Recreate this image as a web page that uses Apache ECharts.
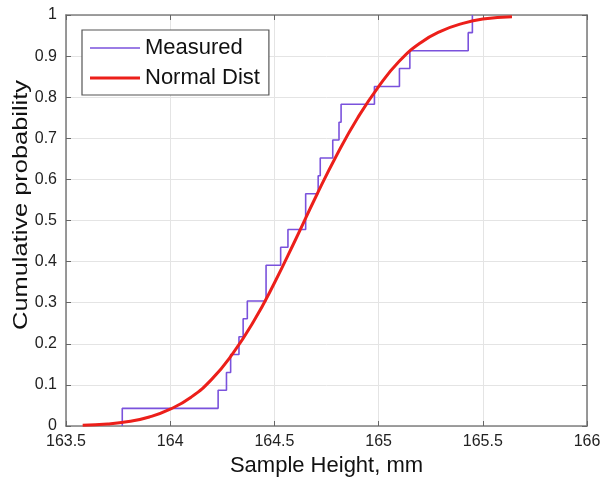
<!DOCTYPE html>
<html>
<head>
<meta charset="utf-8">
<script src="https://cdn.jsdelivr.net/npm/echarts@6/dist/echarts.min.js"></script>
<style>
  html, body { margin: 0; padding: 0; background: #ffffff; }
  #chart { width: 608px; height: 485px; }
</style>
</head>
<body>
<div id="chart"></div>
<script>
// ---- Data ----
// Empirical CDF of measured sample heights (step points: x, cumulative probability)
var measuredX = [163.77, 163.77, 164.23, 164.27, 164.29, 164.33, 164.35, 164.37, 164.46, 164.53, 164.565, 164.65, 164.71, 164.72, 164.78, 164.81, 164.82, 164.98, 165.10, 165.15, 165.43, 165.45];
var measuredP = [0.000, 0.043, 0.087, 0.130, 0.174, 0.217, 0.261, 0.304, 0.391, 0.435, 0.478, 0.565, 0.609, 0.652, 0.696, 0.739, 0.783, 0.826, 0.870, 0.913, 0.957, 1.000];

// Fitted normal distribution curve
var normalX = [163.58, 163.7, 163.8, 163.9, 164.0, 164.1, 164.2, 164.3, 164.4, 164.5, 164.6, 164.7, 164.8, 164.9, 165.0, 165.1, 165.2, 165.3, 165.4, 165.5, 165.64];
var normalP = [0.002, 0.005, 0.011, 0.022, 0.041, 0.070, 0.114, 0.176, 0.254, 0.348, 0.452, 0.559, 0.660, 0.750, 0.826, 0.888, 0.932, 0.961, 0.979, 0.990, 0.996];

// Axis settings
var xMin = 163.5, xMax = 166, xStep = 0.5;
var yMin = 0, yMax = 1, yStep = 0.1;
var xTitle = 'Sample Height, mm';
var yTitle = 'Cumulative probability';
var seriesNames = ['Measured', 'Normal Dist'];

function pairs(xs, ys) {
  var out = [];
  for (var i = 0; i < xs.length; i++) out.push([xs[i], ys[i]]);
  return out;
}

var FONT = '"Liberation Sans", Arial, Helvetica, sans-serif';
var frameColor = '#808080';
var tickColor = '#666666';
var gridColor = '#e4e4e4';
var purple = '#7a52dc';
var red = '#ec1f1a';

var chart = echarts.init(document.getElementById('chart'), null, { renderer: 'canvas' });

function mirrorX(pos) {
  return {
    type: 'value', position: pos, min: xMin, max: xMax, interval: xStep,
    axisLine: { show: true, onZero: false, lineStyle: { color: frameColor, width: 1.6 } },
    axisTick: { show: true, inside: true, length: 5, lineStyle: { color: tickColor } },
    axisLabel: { show: false },
    splitLine: { show: false }
  };
}
function mirrorY(pos) {
  return {
    type: 'value', position: pos, min: yMin, max: yMax, interval: yStep,
    axisLine: { show: true, onZero: false, lineStyle: { color: frameColor, width: 1.6 } },
    axisTick: { show: true, inside: true, length: 5, lineStyle: { color: tickColor } },
    axisLabel: { show: false },
    splitLine: { show: false }
  };
}

var option = {
  animation: false,
  backgroundColor: '#ffffff',
  textStyle: { fontFamily: FONT },
  grid: { left: 66, right: 21, top: 15, bottom: 59, containLabel: false, outerBoundsMode: 'none' },
  graphic: [
    {
      type: 'text',
      x: 21, y: 205,
      rotation: Math.PI / 2,
      scaleX: 1.27, scaleY: 1,
      style: {
        text: yTitle,
        font: '20px "Liberation Sans", Arial, sans-serif',
        fill: '#111111',
        align: 'center',
        verticalAlign: 'middle'
      },
      z: 10
    }
  ],
  legend: {
    left: 82, top: 30,
    orient: 'vertical',
    data: [
      { name: seriesNames[0], icon: 'path://M0,0L50,0L50,1.7L0,1.7Z', itemStyle: { color: purple, borderWidth: 0 } },
      { name: seriesNames[1], icon: 'path://M0,0L50,0L50,3L0,3Z', itemStyle: { color: red, borderWidth: 0 } }
    ],
    itemWidth: 50, itemHeight: 14, itemGap: 8,
    padding: [7, 9, 6, 8],
    borderColor: '#555555', borderWidth: 1.2,
    backgroundColor: '#ffffff',
    textStyle: { fontFamily: FONT, fontSize: 22, color: '#111111', lineHeight: 22 }
  },
  xAxis: [
    {
      type: 'value', position: 'bottom', min: xMin, max: xMax, interval: xStep,
      name: xTitle, nameLocation: 'middle', nameGap: 29, nameMoveOverlap: false,
      nameTextStyle: { fontFamily: FONT, fontSize: 22, color: '#111111' },
      axisLine: { show: true, onZero: false, lineStyle: { color: frameColor, width: 1.6 } },
      axisTick: { show: true, inside: true, length: 5, lineStyle: { color: tickColor } },
      axisLabel: { fontFamily: FONT, fontSize: 16, color: '#222222', margin: 8 },
      splitLine: { show: true, lineStyle: { color: gridColor, width: 1 } }
    },
    mirrorX('top')
  ],
  yAxis: [
    {
      type: 'value', position: 'left', min: yMin, max: yMax, interval: yStep,
      axisLine: { show: true, onZero: false, lineStyle: { color: frameColor, width: 1.6 } },
      axisTick: { show: true, inside: true, length: 5, lineStyle: { color: tickColor } },
      axisLabel: { fontFamily: FONT, fontSize: 16, color: '#222222', margin: 9 },
      splitLine: { show: true, lineStyle: { color: gridColor, width: 1 } }
    },
    mirrorY('right')
  ],
  series: [
    {
      name: seriesNames[0], type: 'line', step: 'end',
      xAxisIndex: 0, yAxisIndex: 0,
      data: pairs(measuredX, measuredP),
      symbol: 'none',
      lineStyle: { color: purple, width: 1.6 },
      itemStyle: { color: purple },
      z: 3
    },
    {
      name: seriesNames[1], type: 'line', smooth: true,
      xAxisIndex: 0, yAxisIndex: 0,
      data: pairs(normalX, normalP),
      symbol: 'none',
      lineStyle: { color: red, width: 3 },
      itemStyle: { color: red },
      z: 4
    }
  ]
};

chart.setOption(option);
</script>
</body>
</html>
